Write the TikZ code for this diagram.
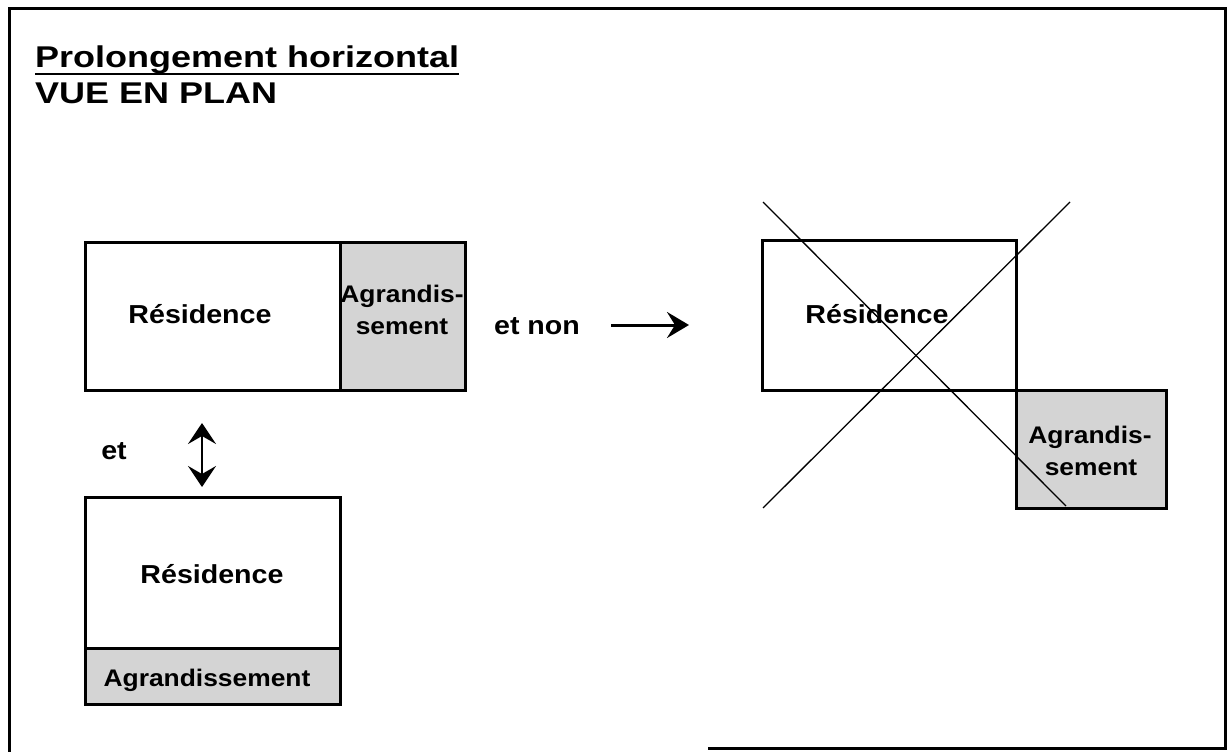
\documentclass[tikz,border=0pt]{standalone}
\usepackage{fontspec}
\setmainfont[FakeStretch=1.2]{Liberation Sans}
\newfontfamily\labfont[FakeStretch=1.1]{Liberation Sans}
\usetikzlibrary{arrows.meta}
\begin{document}
\begin{tikzpicture}[x=1pt,y=-1pt,
  lab/.style={font=\labfont\bfseries\fontsize{26}{30}\selectfont, inner sep=0pt, anchor=base},
  labs/.style={font=\labfont\bfseries\fontsize{24}{28}\selectfont, inner sep=0pt, anchor=base},
  ttl/.style={font=\bfseries\fontsize{30}{34}\selectfont, inner sep=0pt, anchor=base west},
  house/.style={draw=black, line width=3pt, inner sep=0pt},
  ext/.style={draw=black, line width=3pt, fill=black!17, inner sep=0pt},
  cross/.style={line width=1.3pt},
]
\useasboundingbox (0,0) rectangle (1227,752);
\fill[white] (0,0) rectangle (1227,752);
% frame
\draw[line width=3pt] (708,748) -- (1225,748) -- (1225,9) -- (9,9) -- (9,752);

% titles
\node[ttl] (t1) at (35,68) {Prolongement horizontal};
\draw[line width=2pt] ([yshift=-6pt]t1.base west) -- ([yshift=-6pt]t1.base east);
\node[ttl] (t2) at (35,103) {VUE EN PLAN};

% top-left: residence + side extension
\node[house, minimum width=255pt, minimum height=148pt] (r1) at (212.5,316) {};
\node[ext, minimum width=125pt, minimum height=148pt] (a1) at (402.5,316) {};
\node[lab] (r1l) at (200,323) {Résidence};
\node[labs] (a1l1) at (402,302) {Agrandis-};
\node[labs] (a1l2) at (402,334) {sement};

% et non arrow
\node[lab] (etnon) at (537,334) {et non};
\coordinate (n1) at (611,325);
\coordinate (n2) at (689,325);
\draw[line width=3pt, -{Stealth[length=22pt,width=26pt,inset=8pt]}] (n1) -- (n2);

% et + double arrow
\node[lab] (et) at (114,459) {et};
\coordinate (d1) at (202,423);
\coordinate (d2) at (202,487);
\draw[line width=2.5pt, {Stealth[length=21pt,width=28pt,inset=8pt]}-{Stealth[length=21pt,width=28pt,inset=8pt]}] (d1) -- (d2);

% bottom-left: residence + extension below
\node[house, minimum width=255pt, minimum height=151pt] (r2) at (212.5,572.5) {};
\node[ext, minimum width=255pt, minimum height=56pt] (a2) at (212.5,676) {};
\node[lab] (r2l) at (212,583) {Résidence};
\node[labs] (a2l) at (207,686) {Agrandissement};

% right: crossed-out layout
\node[house, minimum width=254pt, minimum height=150pt] (r3) at (889,315) {};
\node[ext, minimum width=150pt, minimum height=118pt] (a3) at (1091,449) {};
\node[lab] (r3l) at (877,323) {Résidence};
\node[labs] (a3l1) at (1090,443) {Agrandis-};
\node[labs] (a3l2) at (1091,475) {sement};
\draw[cross] (763,202) -- (1066,506);
\draw[cross] (1070,202) -- (763,508);
\end{tikzpicture}
\end{document}
